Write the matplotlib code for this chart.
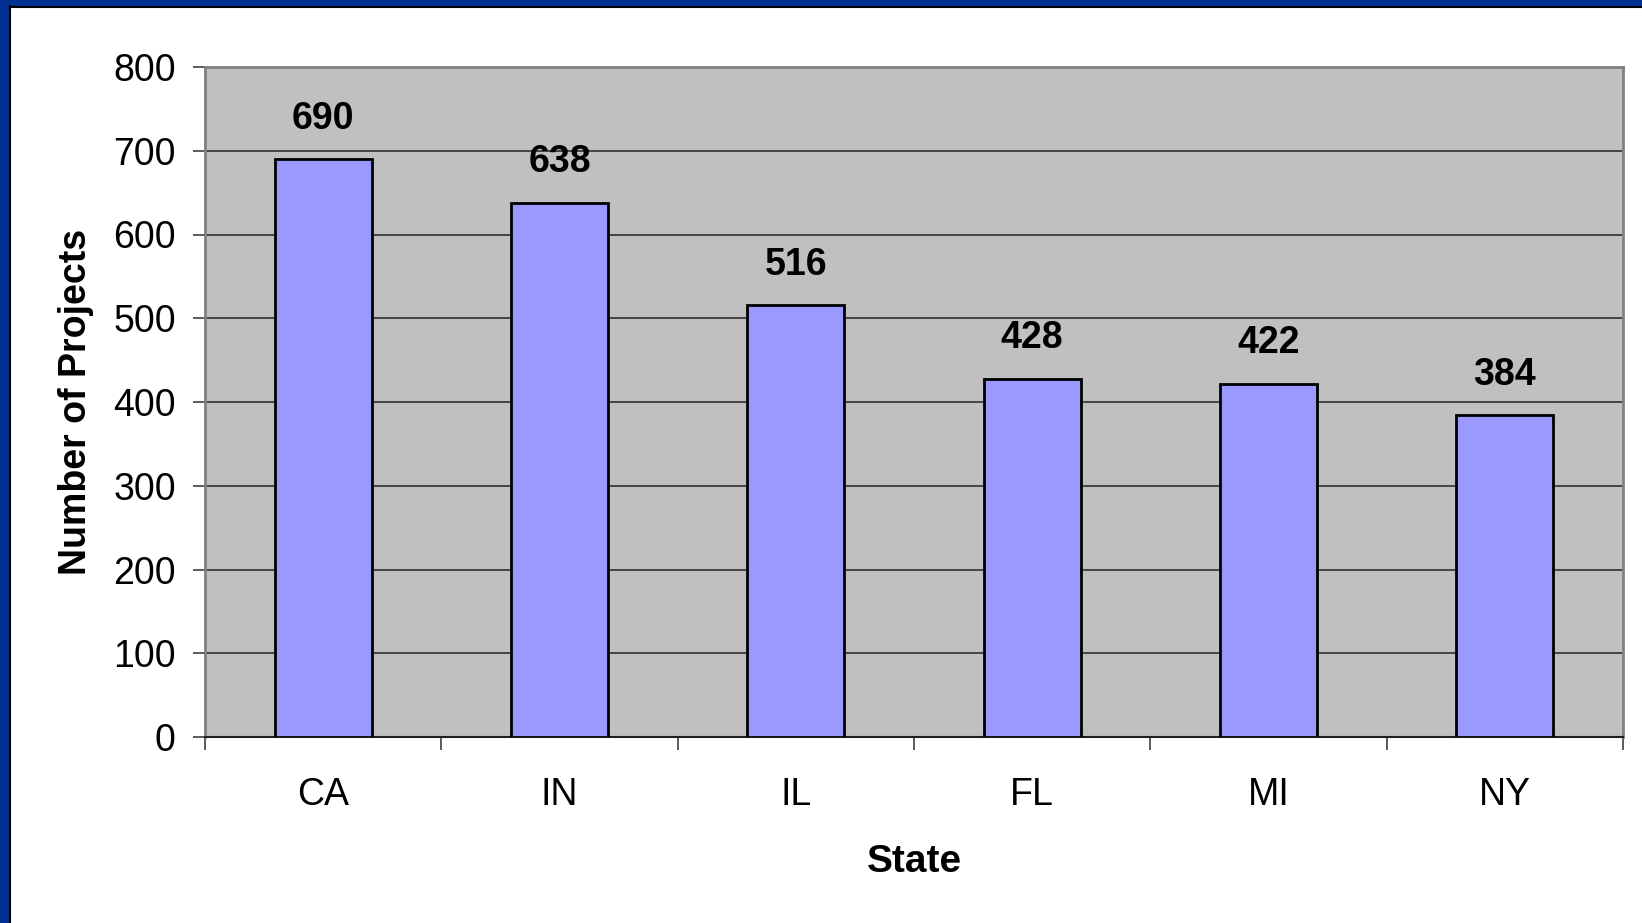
import numpy as np
import matplotlib.pyplot as plt
from matplotlib.patches import Rectangle

plt.rcParams['font.family'] = ['Liberation Sans', 'DejaVu Sans']

# data
states = ['CA', 'IN', 'IL', 'FL', 'MI', 'NY']
projects = [690, 638, 516, 428, 422, 384]

W, H = 1642, 923
fig = plt.figure(figsize=(W / 100, H / 100), dpi=100)
fig.patch.set_facecolor('white')

# blue slide frame on left and top
fig.add_artist(Rectangle((0, 0), 9 / W, 1, transform=fig.transFigure,
                         facecolor='#003090', edgecolor='none'))
fig.add_artist(Rectangle((0, 1 - 6 / H), 1, 6 / H, transform=fig.transFigure,
                         facecolor='#003090', edgecolor='none'))
fig.add_artist(plt.Line2D([9.5 / W, 9.5 / W], [0, 1 - 6 / H], transform=fig.transFigure,
                          color='black', lw=1.5))
fig.add_artist(plt.Line2D([9.5 / W, 1], [1 - 6.5 / H, 1 - 6.5 / H], transform=fig.transFigure,
                          color='black', lw=1.5))

ax = fig.add_axes([205 / W, 1 - 737 / H, 1418 / W, 670 / H])
ax.set_facecolor('#C0C0C0')

x = np.arange(len(states))
ax.bar(x, projects, width=0.41, color='#9999FF', edgecolor='black', linewidth=2, zorder=3)

for xi, v in zip(x, projects):
    ax.annotate(str(v), (xi, v), xytext=(0, 16), textcoords='offset points',
                ha='center', va='bottom', fontsize=27, fontweight='bold')

ax.set_xlim(-0.5, len(states) - 0.5)
ax.set_ylim(0, 800)
ax.set_yticks(np.arange(0, 801, 100))
ax.yaxis.grid(True, color='#303030', linewidth=1.2, zorder=0)
ax.set_axisbelow(True)

ax.set_xticks(x)
ax.set_xticklabels(states)
ax.set_xticks(np.arange(-0.5, len(states), 1), minor=True)
ax.tick_params(axis='x', which='major', length=0, pad=29, labelsize=27)
ax.tick_params(axis='x', which='minor', length=9, width=1.2, color='#404040', direction='out')
ax.tick_params(axis='y', length=9, width=1.2, color='#404040', pad=12, labelsize=27)

for side in ['top', 'right', 'left']:
    ax.spines[side].set_color('#808080')
    ax.spines[side].set_linewidth(2)
ax.spines['bottom'].set_color('#202020')
ax.spines['bottom'].set_linewidth(1.5)

ax.set_xlabel('State', fontsize=28, fontweight='bold', labelpad=22)
ax.set_ylabel('Number of Projects', fontsize=27, fontweight='bold', labelpad=14)

fig.savefig('out.png', dpi=100)
